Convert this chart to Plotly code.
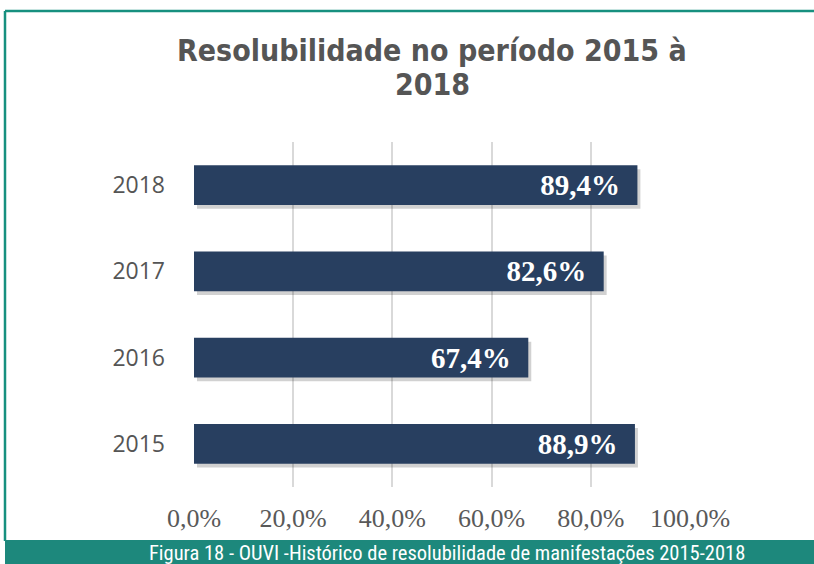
import plotly.graph_objects as go

years = ["2015", "2016", "2017", "2018"]
resolubilidade = [0.889, 0.674, 0.826, 0.894]
bar_labels = ["88,9%", "67,4%", "82,6%", "89,4%"]
x_tickvals = [0, 0.2, 0.4, 0.6, 0.8, 1.0]
x_ticktext = ["0,0%", "20,0%", "40,0%", "60,0%", "80,0%", "100,0%"]

title_lines = ["Resolubilidade no período 2015 à", "2018"]
caption_text = "Figura 18 - OUVI -Histórico de resolubilidade de manifestações 2015-2018"

W, H = 814, 564
L, R, T, B = 194, 124, 142, 77
pw, ph = W - L - R, H - T - B

def px_x(px):
    return (px - L) / pw

def px_y(py):
    return (H - B - py) / ph

BAR_W = 0.46
NBSP = "\u00a0"

fig = go.Figure()
# soft shadow
fig.add_trace(go.Bar(
    y=years, x=resolubilidade, orientation="h",
    width=BAR_W, offset=-BAR_W / 2 - 0.045, base=0.006,
    marker=dict(color="rgba(0,0,0,0.18)", line=dict(width=0)),
    hoverinfo="skip", showlegend=False,
))
fig.add_trace(go.Bar(
    y=years, x=resolubilidade, orientation="h",
    width=BAR_W, offset=-BAR_W / 2,
    marker=dict(color="#283f60", line=dict(width=0)),
    text=[t + NBSP * 2 for t in bar_labels],
    textposition="inside", insidetextanchor="end",
    textfont=dict(family="Liberation Serif, Times New Roman, serif", size=29, color="white", weight="bold"),
    showlegend=False,
))

title_font = dict(family="DejaVu Sans Condensed, DejaVu Sans, sans-serif", size=30, color="#555555", weight="bold")

fig.update_layout(
    width=W, height=H,
    margin=dict(l=L, r=R, t=T, b=B),
    paper_bgcolor="white", plot_bgcolor="white",
    barmode="overlay",
    xaxis=dict(
        range=[0, 1.0], tickvals=x_tickvals, ticktext=x_ticktext,
        showgrid=True, gridcolor="#d9d9d9", gridwidth=2,
        zeroline=False, showline=False, ticks="",
        tickfont=dict(family="Liberation Serif, Times New Roman, serif", size=26, color="#595959"),
        ticklabelstandoff=13,
    ),
    yaxis=dict(
        type="category", categoryorder="array", categoryarray=years,
        range=[-0.5, 3.5], showgrid=False, zeroline=False, showline=False, ticks="",
        tickfont=dict(family="Open Sans, sans-serif", size=23, color="#555555"),
        ticklabelstandoff=28,
    ),
    shapes=[
        # teal frame (top and left)
        dict(type="line", xref="paper", yref="paper", x0=px_x(5), x1=px_x(814), y0=px_y(11), y1=px_y(11),
             line=dict(color="#17907f", width=2.5), layer="above"),
        dict(type="line", xref="paper", yref="paper", x0=px_x(5), x1=px_x(5), y0=px_y(11), y1=px_y(541),
             line=dict(color="#17907f", width=2.5), layer="above"),
        # caption band
        dict(type="rect", xref="paper", yref="paper", x0=px_x(5), x1=px_x(815), y0=px_y(540), y1=px_y(565),
             fillcolor="#1d887c", line=dict(width=0), layer="above"),
    ],
    annotations=[
        dict(text=title_lines[0], xref="paper", yref="paper", x=px_x(432), y=px_y(51),
             xanchor="center", yanchor="middle", showarrow=False, font=title_font),
        dict(text=title_lines[1], xref="paper", yref="paper", x=px_x(432), y=px_y(84),
             xanchor="center", yanchor="middle", showarrow=False, font=title_font),
        dict(text=caption_text, xref="paper", yref="paper", x=px_x(447), y=px_y(553),
             xanchor="center", yanchor="middle", showarrow=False,
             font=dict(family="Liberation Sans Narrow, Roboto Condensed, Roboto, sans-serif", size=20.5, color="white")),
    ],
)

fig.write_html("out.html", config={"displayModeBar": False},
               post_script="document.body.style.margin='0';document.body.style.overflow='hidden';")
